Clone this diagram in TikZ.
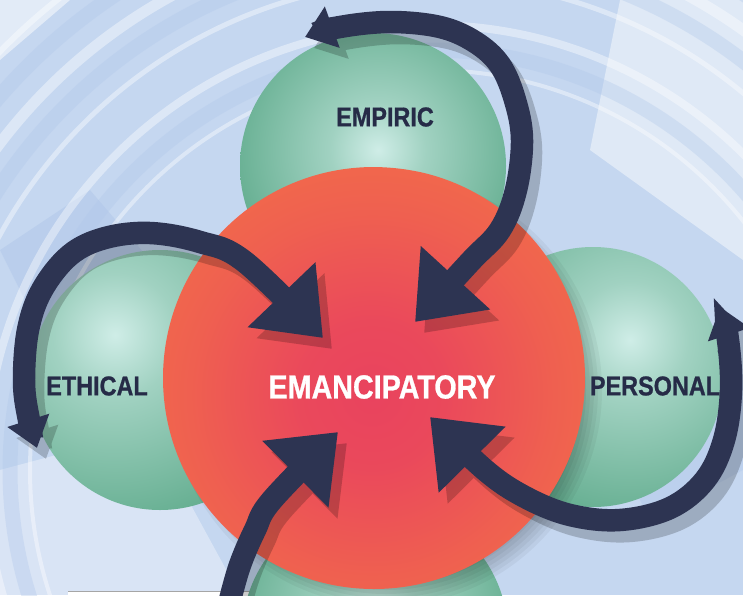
\documentclass[tikz,border=0pt]{standalone}
\usepackage{fontspec}
\usepackage{tikz}
\usetikzlibrary{arrows.meta}
\newfontfamily\knowfont[FakeStretch=0.86, FakeBold=0.8]{Liberation Sans}
\definecolor{bgblue}{HTML}{C5D7F0}
\definecolor{bgdeep}{HTML}{B0C7EA}
\definecolor{navyarrow}{HTML}{2D3452}
\definecolor{navytext}{HTML}{262B47}
\definecolor{ballhi}{HTML}{CFEDE7}
\definecolor{ballmid}{HTML}{68B093}
\definecolor{balledge}{HTML}{468E70}
\definecolor{redcore}{HTML}{E9435E}
\definecolor{redmid}{HTML}{EF6050}
\definecolor{rededge}{HTML}{F36F48}
\pgfdeclareradialshading{greenball}{\pgfpoint{0bp}{0bp}}{color(0bp)=(ballhi); color(8bp)=(ballhi!55!ballmid); color(24bp)=(ballmid); color(42bp)=(balledge!50!ballmid); color(50bp)=(balledge)}
\pgfdeclareradialshading{redball}{\pgfpoint{0bp}{0bp}}{color(0bp)=(redcore); color(8bp)=(redcore!80!redmid); color(20bp)=(redmid); color(30bp)=(rededge!90!redmid); color(50bp)=(rededge)}
\tikzset{
  smallhead/.tip={Triangle[width=.84cm,length=.58cm]},
  bighead/.tip={Triangle[width=1.8cm,length=1.2cm]}
}
\def\Ball#1#2#3#4#5{%cx cy r hx hy
  \begin{scope}
    \clip (#1,#2) circle[radius=#3];
    \shade[shading=greenball] (#4,#5) circle[radius={#3+veclen(#4-#1,#5-#2)}];
  \end{scope}
}
\begin{document}
\begin{tikzpicture}[x=0.02cm, y=-0.02cm,
    band/.style={draw=navyarrow, line width=0.45cm},
    knowtext/.style={font=\knowfont\bfseries\fontsize{15.5}{17}\selectfont, text=navytext, inner sep=0pt}
  ]
  \useasboundingbox (0,0) rectangle (743,595);
  % background
  \fill[bgblue] (0,0) rectangle (743,595);
  \begin{scope}
    \clip (0,0) rectangle (743,595);
    \fill[white, opacity=.45] (620,0) -- (743,0) -- (743,260) -- (590,150) -- cycle;
    \fill[white, opacity=.35] (0,470) -- (150,430) -- (240,595) -- (0,595) -- cycle;
    \fill[white, opacity=.5] (0,0) -- (70,0) -- (0,60) -- cycle;
    \fill[bgdeep, opacity=.5] (0,250) -- (90,190) -- (150,260) -- (40,330) -- cycle;
    \fill[bgdeep, opacity=.4] (600,420) -- (743,380) -- (743,470) -- (650,520) -- cycle;
    \foreach \r/\w in {400/.08, 445/.16, 490/.1, 540/.22, 600/.12}
      \draw[white, opacity=.4, line width=\w cm] (430,470) circle[radius=\r];
    \foreach \r in {420, 515, 570}
      \draw[bgdeep, opacity=.35, line width=.3cm] (430,470) circle[radius=\r];
  \end{scope}
  % partly hidden box at the bottom
  \fill[white] (68,591) rectangle (456,595);
  \draw[gray!70, line width=.5pt] (68,591) -- (456,591);
  % green balls
  \Ball{375}{635}{133}{375}{620}
  \Ball{160}{380}{130}{115}{335}
  \Ball{593}{377}{130}{630}{340}
  \Ball{373}{166}{133}{378}{150}
  % red ball with its shadow
  \foreach \k in {0,...,5}
    \fill[black, opacity=.045] (386,390) circle[radius=216-4*\k];
  \begin{scope}
    \clip (374,378) circle[radius=211];
    \shade[shading=redball] (372,395) circle[radius=228];
  \end{scope}
  % arrow ends
  \coordinate (empT) at (305,37);
  \coordinate (empH) at (415,322);
  \coordinate (ethT) at (37,448);
  \coordinate (ethH) at (323,338);
  \coordinate (perT) at (720,307);
  \coordinate (perH) at (430,417);
  \coordinate (aesT) at (230,600);
  \coordinate (aesH) at (338,432);
  \def\EmpiricArrow{plot[smooth, tension=.6] coordinates {(empT) (340,27) (390,22) (440,27) (475,42) (500,65) (515,100) (522,140) (516,190) (500,230) (470,262) (empH)}}
  \def\EthicalArrow{plot[smooth, tension=.6] coordinates {(ethT) (28,415) (24,380) (28,330) (42,290) (70,255) (105,238) (150,233) (200,242) (245,262) (ethH)}}
  \def\PersonalArrow{plot[smooth, tension=.6] coordinates {(perT) (728,340) (731,390) (724,440) (705,480) (670,508) (620,520) (570,515) (525,497) (485,470) (perH)}}
  \def\AestheticArrow{plot[smooth, tension=.6] coordinates {(aesT) (240,565) (255,530) (272,500) (aesH)}}
  % shadows of the arrows
  \begin{scope}[transparency group, opacity=.2, transform canvas={shift={(9,11)}}]
    \draw[band, draw=black, arrows={smallhead-bighead}] \EmpiricArrow;
    \draw[band, draw=black, arrows={smallhead-bighead}] \EthicalArrow;
    \draw[band, draw=black, arrows={smallhead-bighead}] \PersonalArrow;
    \draw[band, draw=black, arrows={-bighead}] \AestheticArrow;
  \end{scope}
  % arrows
  \draw[band, arrows={smallhead-bighead}] \EmpiricArrow;
  \draw[band, arrows={smallhead-bighead}] \EthicalArrow;
  \draw[band, arrows={smallhead-bighead}] \PersonalArrow;
  \draw[band, arrows={-bighead}] \AestheticArrow;
  % labels
  \node[knowtext] (empiric) at (385,117) {EMPIRIC};
  \node[knowtext] (ethical) at (97,386) {ETHICAL};
  \node[knowtext] (personal) at (655,386) {PERSONAL};
  \node[knowtext, text=white, font=\knowfont\bfseries\fontsize{19}{21}\selectfont] (emancipatory) at (382,387) {EMANCIPATORY};
\end{tikzpicture}
\end{document}
